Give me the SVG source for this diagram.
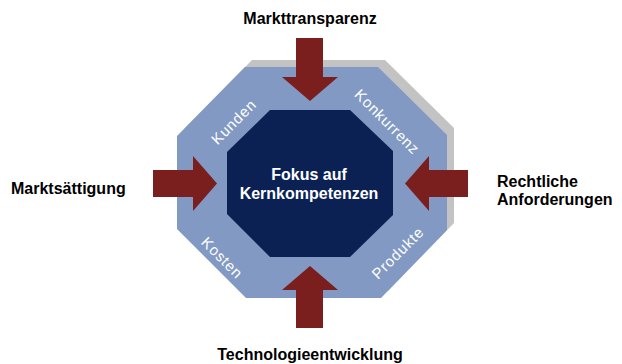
<svg xmlns="http://www.w3.org/2000/svg" width="622" height="364" viewBox="0 0 622 364">
<defs>
<style>
.lbl{font-family:"Liberation Sans",Arial,sans-serif;font-weight:bold;font-size:16px;fill:#000}
.ctr{font-family:"Liberation Sans",Arial,sans-serif;font-weight:bold;font-size:16px;fill:#fff}
.side{font-family:"Liberation Sans",Arial,sans-serif;font-size:15px;fill:#fff;letter-spacing:0.8px}
.arrow{fill:#7a1f1e}
</style>
</defs>
<rect width="622" height="364" fill="#fff"/>
<g id="outer">
<polygon points="252,60 385,60 454,128 454,223 388,291 253,291 184,222 184,129" fill="#c3c3c3"/>
<polygon points="245,67 378,67 447,135 447,230 381,298 246,298 177,229 177,136" fill="#8199c3"/>
<text class="side" transform="translate(237.5,125.5) rotate(-45)" text-anchor="middle">Kunden</text>
<text class="side" transform="translate(383.5,125.5) rotate(45)" text-anchor="middle">Konkurrenz</text>
<text class="side" transform="translate(218.5,261.5) rotate(45)" text-anchor="middle">Kosten</text>
<text class="side" transform="translate(401.5,256.5) rotate(-45)" text-anchor="middle">Produkte</text>
</g>
<g id="core">
<polygon points="270,110 350,110 393,151 393,215 350,257 270,257 227,214 227,152" fill="#0b2154"/>
<text class="ctr" x="309" y="180" text-anchor="middle">Fokus auf</text>
<text class="ctr" x="309" y="199" text-anchor="middle">Kernkompetenzen</text>
</g>
<g id="connectors">
<polygon class="arrow" points="296,38 323,38 323,77 338,77 310,101 282,77 296,77"/>
<polygon class="arrow" points="296,328 323,328 323,290 338,290 310,266 282,290 296,290"/>
<polygon class="arrow" points="153,170 193,170 193,156 217,183.5 193,211 193,197 153,197"/>
<polygon class="arrow" points="468,170 429,170 429,156 405,183.5 429,211 429,197 468,197"/>
</g>
<g id="top"><text class="lbl" x="310" y="24" text-anchor="middle">Markttransparenz</text></g>
<g id="bottom"><text class="lbl" x="310" y="360" text-anchor="middle">Technologieentwicklung</text></g>
<g id="left"><text class="lbl" x="11" y="194">Marktsättigung</text></g>
<g id="right"><text class="lbl" x="497" y="187">Rechtliche</text><text class="lbl" x="497" y="205">Anforderungen</text></g>
</svg>
